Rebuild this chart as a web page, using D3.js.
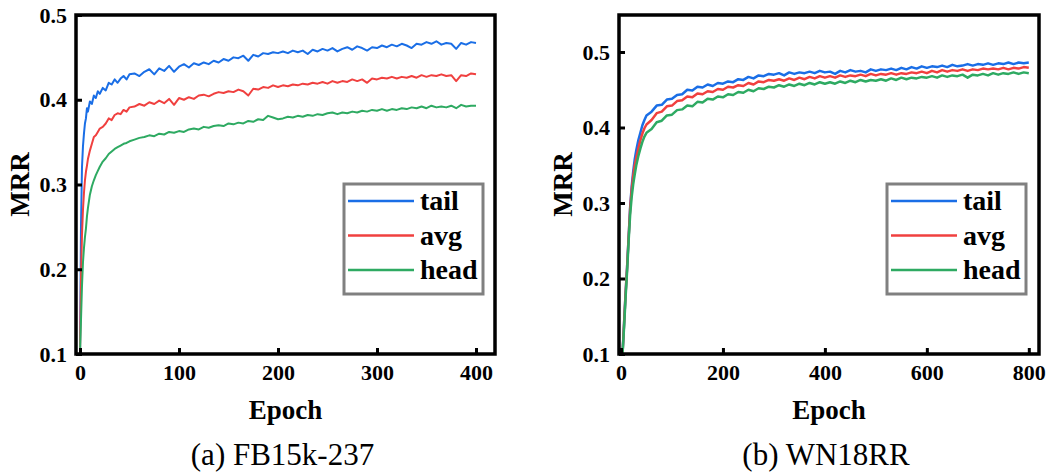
<!DOCTYPE html>
<html>
<head>
<meta charset="utf-8">
<script src="https://cdn.jsdelivr.net/npm/d3@7"></script>
</head>
<body style="margin:0; background:#fff">
<div id="vis"></div>
<script>
// series names and colours
const seriesNames = ["tail", "avg", "head"];
const seriesColors = ["#1a6ee6", "#f0403f", "#2eaa62"];

// (a) FB15k-237
const fbEpochs = [0, 1, 2, 3, 4, 5, 6, 7, 8, 10, 12, 14, 16, 18, 20, 23, 26, 29, 32, 35, 38, 41, 44, 47, 50,
  55, 60, 65, 70, 75, 80, 85, 90, 95, 100, 105, 110, 115, 120, 125, 130, 135, 140, 145, 150,
  155, 160, 165, 170, 175, 180, 185, 190, 195, 200, 205, 210, 215, 220, 225, 230, 235, 240, 245, 250,
  255, 260, 265, 270, 275, 280, 285, 290, 295, 300, 305, 310, 315, 320, 325, 330, 335, 340, 345, 350,
  355, 360, 365, 370, 375, 380, 385, 390, 395, 400];
const fbTail = [0.10, 0.25, 0.32, 0.345, 0.36, 0.372, 0.378, 0.39, 0.386, 0.398, 0.395, 0.405, 0.402, 0.41, 0.407, 0.414, 0.411, 0.42, 0.418, 0.424, 0.42, 0.425, 0.428, 0.424, 0.43,
  0.431, 0.428, 0.433, 0.436, 0.430, 0.437, 0.434, 0.440, 0.433, 0.439, 0.442, 0.438, 0.443, 0.441, 0.444, 0.442, 0.446, 0.444, 0.448, 0.446,
  0.450, 0.449, 0.452, 0.446, 0.453, 0.451, 0.455, 0.454, 0.456, 0.455, 0.457, 0.455, 0.458, 0.456, 0.458, 0.454, 0.459, 0.457, 0.460, 0.458,
  0.461, 0.457, 0.460, 0.462, 0.459, 0.463, 0.461, 0.458, 0.462, 0.461, 0.464, 0.462, 0.465, 0.463, 0.466, 0.464, 0.461, 0.466, 0.465, 0.468,
  0.466, 0.469, 0.465, 0.467, 0.466, 0.460, 0.467, 0.465, 0.468, 0.467];
const fbAvg = [0.10, 0.19, 0.24, 0.27, 0.29, 0.305, 0.315, 0.322, 0.33, 0.34, 0.348, 0.356, 0.358, 0.362, 0.366, 0.368, 0.372, 0.378, 0.376, 0.382, 0.384, 0.383, 0.388, 0.386, 0.391,
  0.392, 0.395, 0.393, 0.397, 0.395, 0.399, 0.396, 0.401, 0.394, 0.402, 0.400, 0.403, 0.401, 0.405, 0.406, 0.404, 0.407, 0.409, 0.408, 0.410,
  0.409, 0.412, 0.410, 0.405, 0.413, 0.412, 0.415, 0.414, 0.417, 0.415, 0.417, 0.416, 0.418, 0.417, 0.419, 0.418, 0.420, 0.419, 0.421, 0.419,
  0.422, 0.420, 0.422, 0.421, 0.424, 0.422, 0.424, 0.420, 0.425, 0.424, 0.426, 0.425, 0.427, 0.425, 0.427, 0.426, 0.428, 0.426, 0.429, 0.427,
  0.429, 0.428, 0.430, 0.428, 0.429, 0.422, 0.429, 0.428, 0.431, 0.430];
const fbHead = [0.10, 0.14, 0.18, 0.208, 0.225, 0.238, 0.248, 0.262, 0.272, 0.288, 0.298, 0.305, 0.311, 0.316, 0.321, 0.327, 0.331, 0.336, 0.339, 0.342, 0.344, 0.346, 0.348, 0.349, 0.351,
  0.353, 0.355, 0.356, 0.358, 0.357, 0.360, 0.359, 0.362, 0.361, 0.363, 0.362, 0.365, 0.366, 0.365, 0.368, 0.367, 0.369, 0.370, 0.369, 0.372,
  0.371, 0.373, 0.372, 0.375, 0.374, 0.377, 0.376, 0.381, 0.379, 0.377, 0.378, 0.380, 0.379, 0.381, 0.380, 0.382, 0.381, 0.383, 0.382, 0.384,
  0.385, 0.383, 0.385, 0.384, 0.386, 0.385, 0.387, 0.386, 0.388, 0.387, 0.389, 0.387, 0.389, 0.388, 0.390, 0.389, 0.391, 0.390, 0.392, 0.390,
  0.393, 0.391, 0.392, 0.391, 0.393, 0.390, 0.394, 0.392, 0.393, 0.393];

// (b) WN18RR
const wnEpochs = [3, 6, 9, 12, 15, 18, 21, 24, 27, 30, 34, 38, 42, 46, 50,
  60, 70, 80, 90, 100, 110, 120, 130, 140, 150, 160, 170, 180, 190, 200,
  210, 220, 230, 240, 250, 260, 270, 280, 290, 300, 310, 320, 330, 340, 350,
  360, 370, 380, 390, 400, 410, 420, 430, 440, 450, 460, 470, 480, 490, 500,
  510, 520, 530, 540, 550, 560, 570, 580, 590, 600, 610, 620, 630, 640, 650,
  660, 670, 680, 690, 700, 710, 720, 730, 740, 750, 760, 770, 780, 790, 800];
const wnTail = [0.10, 0.14, 0.18, 0.215, 0.255, 0.295, 0.322, 0.342, 0.358, 0.37, 0.383, 0.393, 0.403, 0.41, 0.416,
  0.421, 0.429, 0.430, 0.437, 0.438, 0.443, 0.444, 0.450, 0.449, 0.454, 0.453, 0.457, 0.455, 0.459, 0.458,
  0.461, 0.460, 0.464, 0.463, 0.467, 0.465, 0.469, 0.468, 0.471, 0.470, 0.472, 0.469, 0.473, 0.471, 0.473,
  0.472, 0.474, 0.472, 0.475, 0.473, 0.474, 0.471, 0.475, 0.473, 0.476, 0.474, 0.475, 0.473, 0.477, 0.475,
  0.477, 0.476, 0.478, 0.476, 0.479, 0.477, 0.480, 0.478, 0.481, 0.479, 0.481, 0.480, 0.482, 0.480, 0.483,
  0.481, 0.482, 0.484, 0.482, 0.484, 0.483, 0.485, 0.483, 0.485, 0.484, 0.486, 0.484, 0.486, 0.485, 0.486];
const wnAvg = [0.10, 0.14, 0.18, 0.215, 0.255, 0.293, 0.318, 0.336, 0.35, 0.36, 0.372, 0.383, 0.392, 0.399, 0.404,
  0.410, 0.419, 0.421, 0.428, 0.429, 0.435, 0.436, 0.441, 0.440, 0.445, 0.444, 0.448, 0.447, 0.451, 0.450,
  0.454, 0.453, 0.456, 0.455, 0.459, 0.457, 0.461, 0.460, 0.463, 0.462, 0.464, 0.462, 0.465, 0.463, 0.466,
  0.464, 0.467, 0.465, 0.468, 0.466, 0.468, 0.466, 0.469, 0.467, 0.469, 0.468, 0.470, 0.468, 0.471, 0.469,
  0.471, 0.470, 0.472, 0.470, 0.472, 0.471, 0.473, 0.472, 0.474, 0.472, 0.475, 0.473, 0.476, 0.474, 0.476,
  0.475, 0.477, 0.475, 0.477, 0.476, 0.478, 0.477, 0.478, 0.477, 0.479, 0.477, 0.479, 0.478, 0.480, 0.479];
const wnHead = [0.10, 0.135, 0.175, 0.21, 0.25, 0.285, 0.308, 0.325, 0.338, 0.35, 0.362, 0.372, 0.381, 0.388, 0.393,
  0.398, 0.407, 0.409, 0.416, 0.417, 0.423, 0.424, 0.429, 0.428, 0.434, 0.433, 0.438, 0.437, 0.441, 0.440,
  0.444, 0.443, 0.447, 0.446, 0.450, 0.448, 0.452, 0.451, 0.454, 0.453, 0.456, 0.454, 0.457, 0.455, 0.458,
  0.456, 0.459, 0.457, 0.460, 0.458, 0.460, 0.458, 0.461, 0.459, 0.462, 0.460, 0.463, 0.461, 0.463, 0.462,
  0.464, 0.462, 0.465, 0.463, 0.466, 0.464, 0.466, 0.465, 0.467, 0.466, 0.468, 0.466, 0.469, 0.467, 0.469,
  0.468, 0.470, 0.466, 0.470, 0.469, 0.471, 0.469, 0.472, 0.470, 0.472, 0.471, 0.473, 0.471, 0.473, 0.472];

const fbXTicks = [0, 100, 200, 300, 400];
const wnXTicks = [0, 200, 400, 600, 800];
const yTicks = [0.1, 0.2, 0.3, 0.4, 0.5];

const serif = "Liberation Serif";

let svg = d3
  .select("#vis")
  .append("svg")
  .attr("width", 1048)
  .attr("height", 475)
  .style("background-color", "white");

// one panel: frame, axes, lines, legend, labels
function drawPanel(p) {
  let x = d3.scaleLinear().domain(p.xDomain).range([p.left, p.right]);
  let y = d3.scaleLinear().domain(p.yDomain).range([p.bottom, p.top]);

  let clipId = "clip-" + p.id;
  svg.append("clipPath").attr("id", clipId)
    .append("rect")
    .attr("x", p.left).attr("y", p.top)
    .attr("width", p.right - p.left).attr("height", p.bottom - p.top);

  let line = d3.line().x(d => x(d[0])).y(d => y(d[1]));
  let series = [p.tail, p.avg, p.head];
  series.forEach((vals, i) => {
    svg.append("path")
      .datum(p.epochs.map((e, j) => [e, vals[j]]))
      .attr("clip-path", "url(#" + clipId + ")")
      .attr("fill", "none")
      .attr("stroke", seriesColors[i])
      .attr("stroke-width", p.lineWidth)
      .attr("stroke-linejoin", "round")
      .attr("d", line);
  });

  // frame
  svg.append("rect")
    .attr("x", p.left).attr("y", p.top)
    .attr("width", p.right - p.left).attr("height", p.bottom - p.top)
    .attr("fill", "none").attr("stroke", "#000").attr("stroke-width", 3.5);

  // inward ticks
  let gx = svg.append("g")
    .attr("transform", `translate(0,${p.bottom})`)
    .call(d3.axisBottom(x).tickValues(p.xTicks).tickSize(-6).tickPadding(10).tickFormat(d3.format("d")));
  let gy = svg.append("g")
    .attr("transform", `translate(${p.left},0)`)
    .call(d3.axisLeft(y).tickValues(yTicks).tickSize(-6).tickPadding(9).tickFormat(d3.format(".1f")));
  [gx, gy].forEach(g => {
    g.attr("font-family", serif).attr("font-size", 22).attr("font-weight", "bold");
    g.select(".domain").remove();
    g.selectAll(".tick line").attr("stroke", "#000").attr("stroke-width", 3);
    g.selectAll(".tick text").attr("fill", "#000");
  });

  let cx = (p.left + p.right) / 2;
  svg.append("text")
    .attr("x", cx).attr("y", 419)
    .attr("text-anchor", "middle")
    .attr("font-family", serif).attr("font-weight", "bold").attr("font-size", 27)
    .text("Epoch");
  svg.append("text")
    .attr("transform", `translate(${p.left - 47},${(p.top + p.bottom) / 2}) rotate(-90)`)
    .attr("text-anchor", "middle")
    .attr("font-family", serif).attr("font-weight", "bold").attr("font-size", 27)
    .text("MRR");
  svg.append("text")
    .attr("x", cx - 3).attr("y", 465)
    .attr("text-anchor", "middle")
    .attr("font-family", serif).attr("font-size", 31)
    .text(p.caption);

  // legend
  let lg = svg.append("g").attr("transform", `translate(${p.legendX},184)`);
  lg.append("rect")
    .attr("width", 139).attr("height", 110)
    .attr("fill", "#fff").attr("stroke", "#808080").attr("stroke-width", 3);
  seriesNames.forEach((name, i) => {
    let ly = 17 + i * 34.5;
    lg.append("line")
      .attr("x1", 4).attr("x2", 70).attr("y1", ly).attr("y2", ly)
      .attr("stroke", seriesColors[i]).attr("stroke-width", 2.5);
    lg.append("text")
      .attr("x", 76).attr("y", ly + 9)
      .attr("font-family", serif).attr("font-weight", "bold").attr("font-size", 28)
      .text(name);
  });
}

drawPanel({
  id: "fb", caption: "(a) FB15k-237",
  left: 76, right: 495, top: 15, bottom: 354,
  xDomain: [-4.04, 419.2], yDomain: [0.1, 0.5],
  xTicks: fbXTicks, epochs: fbEpochs,
  tail: fbTail, avg: fbAvg, head: fbHead,
  lineWidth: 2, legendX: 344
});

drawPanel({
  id: "wn", caption: "(b) WN18RR",
  left: 619, right: 1039, top: 15, bottom: 354,
  xDomain: [-3.9, 820], yDomain: [0.1, 0.5 + 37 / 755],
  xTicks: wnXTicks, epochs: wnEpochs,
  tail: wnTail, avg: wnAvg, head: wnHead,
  lineWidth: 2.5, legendX: 887
});
</script>
</body>
</html>
